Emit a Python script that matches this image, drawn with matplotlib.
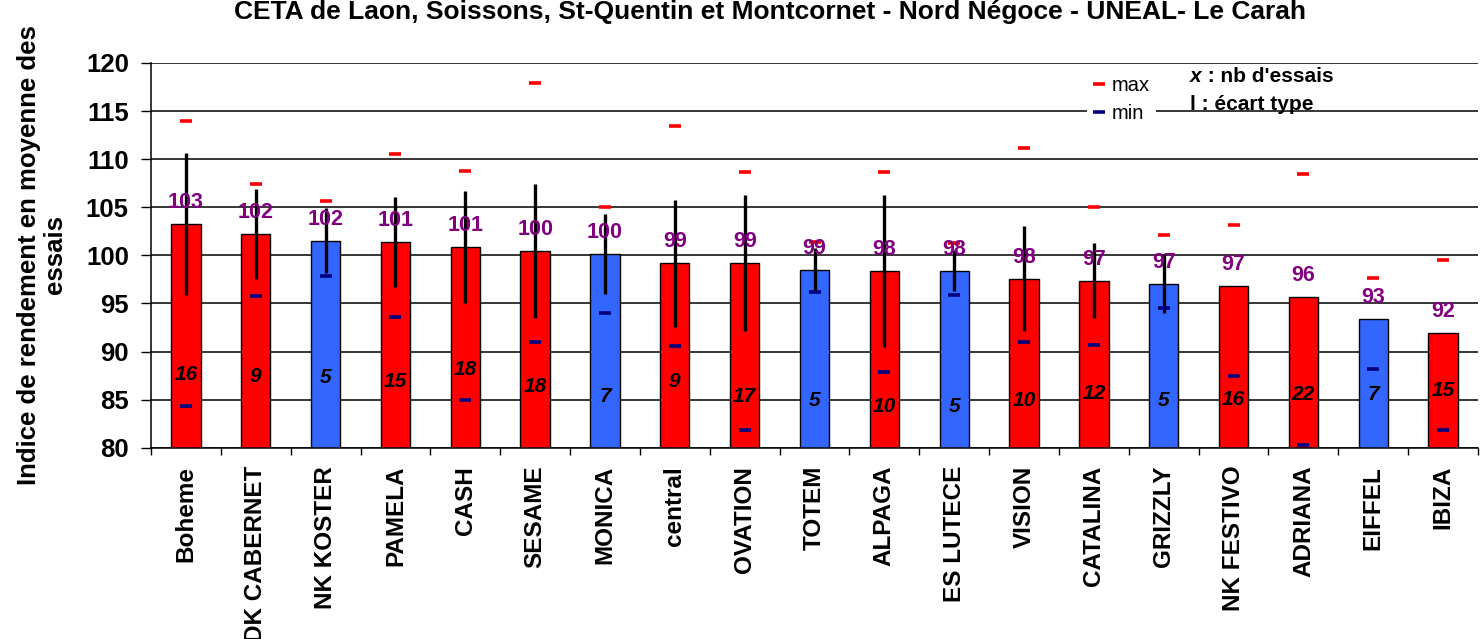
import numpy as np
import matplotlib

matplotlib.use("Agg")
import matplotlib.pyplot as plt  # noqa: E402
from matplotlib.lines import Line2D  # noqa: E402

plt.rcParams["font.family"] = ["Liberation Sans", "DejaVu Sans"]

varieties = ["Boheme", "DK CABERNET", "NK KOSTER", "PAMELA", "CASH", "SESAME",
             "MONICA", "central", "OVATION", "TOTEM", "ALPAGA", "ES LUTECE",
             "VISION", "CATALINA", "GRIZZLY", "NK FESTIVO", "ADRIANA",
             "EIFFEL", "IBIZA"]
blue_varieties = ["NK KOSTER", "MONICA", "TOTEM", "ES LUTECE", "GRIZZLY", "EIFFEL"]
index_mean = [103.28, 102.24, 101.54, 101.4, 100.88, 100.45, 100.12, 99.19,
              99.19, 98.52, 98.42, 98.42, 97.59, 97.38, 97.07, 96.83, 95.65,
              93.42, 91.97]
std_dev = [7.37, 4.65, 3.35, 4.69, 5.8, 7.0, 4.13, 6.6, 7.1, 2.2, 7.9, 2.09,
           5.45, 3.88, 3.1, np.nan, np.nan, np.nan, np.nan]
index_max = [113.96, 107.37, 105.64, 110.53, 108.8, 117.9, 105.0, 113.4,
             108.66, 101.37, 108.66, 101.27, 111.19, 105.0, 102.1, 103.17,
             108.45, 97.63, 99.5]
index_min = [84.34, 95.79, 97.87, 93.57, 85.0, 91.03, 94.05, 90.55, 81.84,
             96.17, 87.88, 95.89, 91.03, 90.66, 94.57, 87.49, 80.25, 88.16,
             81.84]
n_trials = [16, 9, 5, 15, 18, 18, 7, 9, 17, 5, 10, 5, 10, 12, 5, 16, 22, 7, 15]
# where the trial counts sit inside the bars (as in the original sheet)
n_label_y = [87.6, 87.4, 87.25, 86.9, 88.15, 86.35, 85.3, 86.9, 85.3, 84.9,
             84.3, 84.3, 84.95, 85.65, 84.95, 85.05, 85.5, 85.5, 85.95]

RED = "#FF0000"
BLUE = "#3366FF"
PURPLE = "#800080"
NAVY = "#000080"

W, H = 1480, 639
fig = plt.figure(figsize=(W / 100, H / 100), dpi=100)
ax = fig.add_axes([151 / W, 1 - 447.7 / H, (1478 - 151) / W, (447.7 - 63) / H])

x = np.arange(len(varieties))
colors = [BLUE if v in blue_varieties else RED for v in varieties]
ax.bar(x, index_mean, width=0.42, bottom=0, color=colors, edgecolor="black",
       linewidth=1.0, zorder=2)

std = np.asarray(std_dev)
has_std = ~np.isnan(std)
ax.errorbar(x[has_std], np.asarray(index_mean)[has_std], yerr=std[has_std],
            fmt="none", ecolor="black", elinewidth=2.4, capsize=0, zorder=3)
ax.plot(x, index_max, linestyle="none", marker="_", markersize=9,
        markeredgewidth=2.6, color=RED, zorder=4)
ax.plot(x, index_min, linestyle="none", marker="_", markersize=9,
        markeredgewidth=2.6, color=NAVY, zorder=4)

for xi, v in zip(x, index_mean):
    ax.annotate(f"{v:.0f}", (xi, v), xytext=(0, 15.5), textcoords="offset points",
                ha="center", va="center", color=PURPLE, fontsize=15.5,
                fontweight="bold", zorder=5)
for xi, n, yl in zip(x, n_trials, n_label_y):
    ax.text(xi, yl, str(n), ha="center", va="center", fontsize=15,
            fontweight="bold", fontstyle="italic", color="black", zorder=5)

ax.set_xlim(-0.5, len(varieties) - 0.5)
ax.set_ylim(80, 120)
ax.set_yticks(np.arange(80, 121, 5))
ax.tick_params(axis="y", direction="out", length=7, width=1, pad=9,
               labelsize=18.5)
for lab in ax.get_yticklabels():
    lab.set_fontweight("bold")
ax.set_xticks(x)
ax.set_xticklabels(varieties, rotation=90, fontsize=17.5, fontweight="bold",
                   va="top", ha="center")
ax.tick_params(axis="x", which="major", length=0, pad=13)
ax.set_xticks(np.arange(len(varieties) + 1) - 0.5, minor=True)
ax.tick_params(axis="x", which="minor", direction="out", length=5, width=1)

ax.yaxis.grid(True, color="black", linewidth=1.1)
ax.set_axisbelow(True)
for side in ("top", "right"):
    ax.spines[side].set_visible(False)
ax.spines["left"].set_linewidth(1.1)
ax.spines["bottom"].set_linewidth(1.1)

handles = [
    Line2D([], [], linestyle="none", marker="_", markersize=9,
           markeredgewidth=2.6, color=RED, label="max"),
    Line2D([], [], linestyle="none", marker="_", markersize=9,
           markeredgewidth=2.6, color=NAVY, label="min"),
]
leg = fig.legend(handles=handles, loc="upper left",
                 bbox_to_anchor=(1087 / W, 1 - 70 / H), frameon=True,
                 fontsize=14.5, handlelength=0.6, handletextpad=0.35,
                 labelspacing=0.45, borderpad=0.3, borderaxespad=0)
leg.get_frame().set_facecolor("white")
leg.get_frame().set_edgecolor("none")
leg.get_frame().set_alpha(1)

t1 = fig.text(1190 / W, 1 - 76 / H, "x", fontsize=15, fontweight="bold",
              fontstyle="italic", va="center", ha="left")
ax.annotate(" : nb d'essais", xy=(1, 0.5), xycoords=t1, va="center",
            ha="left", fontsize=15, fontweight="bold", annotation_clip=False)
fig.text(1190 / W, 1 - 104 / H, "l : écart type", fontsize=15,
         fontweight="bold", va="center", ha="left")

fig.text(770 / W, 1 - 12 / H,
         "CETA de Laon, Soissons, St-Quentin et Montcornet - Nord Négoce - "
         "UNEAL- Le Carah", ha="center", va="center", fontsize=19,
         fontweight="bold")
fig.text(42 / W, 1 - 255 / H, "Indice de rendement en moyenne des\nessais",
         rotation=90, ha="center", va="center", multialignment="center",
         fontsize=18.5, fontweight="bold", linespacing=1.1)

fig.savefig("out.png", dpi=100)
